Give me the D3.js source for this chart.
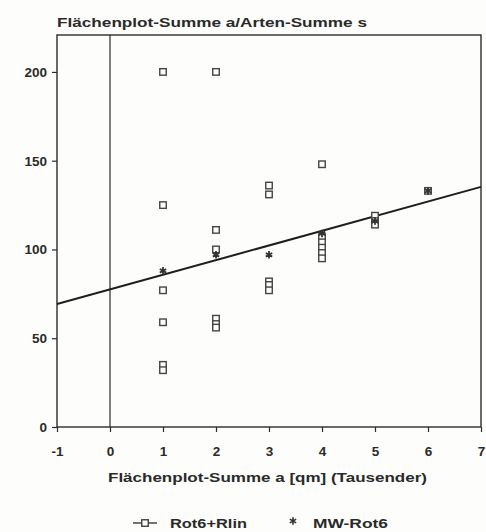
<!DOCTYPE html>
<html>
<head>
<meta charset="utf-8">
<script src="https://cdn.jsdelivr.net/npm/d3@7"></script>
<style>
  html, body { margin: 0; padding: 0; background: #fdfdfb; }
  svg { display: block; }
  text { font-family: "Liberation Sans", Arial, sans-serif; font-weight: bold; fill: #2a2a2a; }
</style>
</head>
<body>
<svg id="chart" width="486" height="532"></svg>
<script>
// Individual plot totals (Rot6+Rlin): area sum in thousand m² vs. species sum
const plotX = [1, 1, 1, 1, 1, 1,
               2, 2, 2, 2, 2, 2,
               3, 3, 3, 3, 3,
               4, 4, 4, 4, 4, 4,
               5, 5, 5,
               6];
const plotY = [200, 125, 77, 59, 35, 32,
               200, 111, 100, 61, 58, 56,
               136, 131, 82, 80, 77,
               148, 107, 104, 101, 98, 95,
               119, 116, 114,
               133];

// Means per area class (MW-Rot6)
const meanX = [1, 2, 3, 4, 5, 6];
const meanY = [88, 97, 97, 109, 116, 133];

// Linear fit: y = intercept + slope * x
const fitIntercept = 77.5;
const fitSlope = 8.25;

const xTicks = [-1, 0, 1, 2, 3, 4, 5, 6, 7];
const yTicks = [0, 50, 100, 150, 200];

const titleText = "Flächenplot-Summe a/Arten-Summe s";
const xTitle = "Flächenplot-Summe a [qm] (Tausender)";
const legendLabels = ["Rot6+Rlin", "MW-Rot6"];

const svg = d3.select("#chart");
const plotLeft = 57, plotRight = 481, plotTop = 35, plotBottom = 427;

const x = d3.scaleLinear().domain([-1, 7]).range([plotLeft, plotRight]);
const y = d3.scaleLinear().domain([0, 220.8]).range([plotBottom, plotTop]);

const ink = "#2b2b2b";
const fmt = d => String(d);

// Title
svg.append("text")
  .attr("x", plotLeft).attr("y", 27)
  .attr("font-size", 13.5)
  .attr("textLength", 310).attr("lengthAdjust", "spacingAndGlyphs")
  .text(titleText);

// Frame
svg.append("rect")
  .attr("x", plotLeft).attr("y", plotTop)
  .attr("width", plotRight - plotLeft).attr("height", plotBottom - plotTop)
  .attr("fill", "none").attr("stroke", ink).attr("stroke-width", 1.4);

// Vertical reference line at x = 0
svg.append("line")
  .attr("x1", x(0)).attr("x2", x(0))
  .attr("y1", plotTop).attr("y2", plotBottom)
  .attr("stroke", ink).attr("stroke-width", 1.2);

// Axes
const yAxis = d3.axisLeft(y).tickValues(yTicks).tickSize(5).tickPadding(5).tickFormat(fmt);
const yg = svg.append("g").attr("transform", `translate(${plotLeft},0)`).call(yAxis);
const xAxis = d3.axisBottom(x).tickValues(xTicks).tickSize(5).tickPadding(14).tickFormat(fmt);
const xg = svg.append("g").attr("transform", `translate(0,${plotBottom})`).call(xAxis);
[yg, xg].forEach(g => {
  g.select(".domain").remove();
  g.selectAll(".tick line").attr("stroke", ink).attr("stroke-width", 1.2);
  g.selectAll(".tick text").attr("font-size", 13.5).attr("font-family", "Liberation Sans, Arial, sans-serif")
    .attr("font-weight", "bold").attr("fill", "#2a2a2a");
});

// x-axis title
svg.append("text")
  .attr("x", (108 + 427) / 2).attr("y", 482)
  .attr("text-anchor", "middle")
  .attr("font-size", 13.5)
  .attr("textLength", 319).attr("lengthAdjust", "spacingAndGlyphs")
  .text(xTitle);

// Regression line across the full x range
svg.append("line")
  .attr("x1", x(-1)).attr("y1", y(fitIntercept + fitSlope * -1))
  .attr("x2", x(7)).attr("y2", y(fitIntercept + fitSlope * 7))
  .attr("stroke", "#1e1e1e").attr("stroke-width", 2);

// Plot squares
const sq = 6.5;
svg.append("g").selectAll("rect")
  .data(plotX.map((d, i) => [d, plotY[i]]))
  .join("rect")
  .attr("x", d => x(d[0]) - sq / 2)
  .attr("y", d => y(d[1]) - sq / 2)
  .attr("width", sq).attr("height", sq)
  .attr("fill", "#fdfdfb").attr("stroke", "#444").attr("stroke-width", 1.4);

// Means as asterisks
const star = d3.symbol().type(d3.symbolAsterisk).size(38);
svg.append("g").selectAll("path")
  .data(meanX.map((d, i) => [d, meanY[i]]))
  .join("path")
  .attr("transform", d => `translate(${x(d[0])},${y(d[1])})`)
  .attr("d", star)
  .attr("fill", "none").attr("stroke", "#333").attr("stroke-width", 1.8);

// Legend
const ly = 528;
svg.append("line").attr("x1", 133).attr("x2", 157).attr("y1", ly - 5).attr("y2", ly - 5)
  .attr("stroke", ink).attr("stroke-width", 1.3);
svg.append("rect").attr("x", 145 - sq / 2).attr("y", ly - 5 - sq / 2).attr("width", sq).attr("height", sq)
  .attr("fill", "#fdfdfb").attr("stroke", "#444").attr("stroke-width", 1.4);
svg.append("text").attr("x", 170).attr("y", ly).attr("font-size", 13.5)
  .attr("textLength", 77).attr("lengthAdjust", "spacingAndGlyphs").text(legendLabels[0]);
svg.append("path").attr("transform", `translate(293,${ly - 7})`).attr("d", star)
  .attr("fill", "none").attr("stroke", "#333").attr("stroke-width", 1.6);
svg.append("text").attr("x", 313).attr("y", ly).attr("font-size", 13.5)
  .attr("textLength", 75).attr("lengthAdjust", "spacingAndGlyphs").text(legendLabels[1]);
</script>
</body>
</html>
